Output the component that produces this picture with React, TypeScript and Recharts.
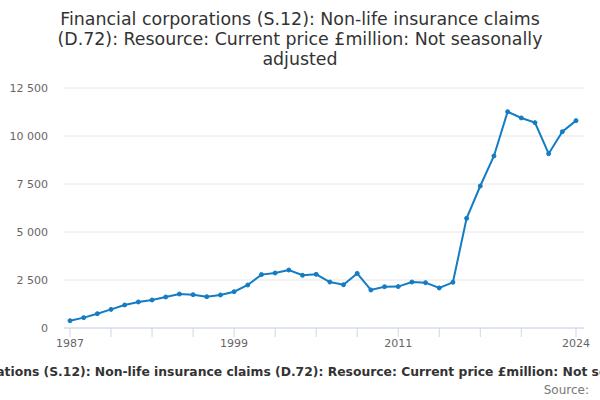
import React from 'react';
import { LineChart, Line, XAxis, YAxis, CartesianGrid } from 'recharts';

const years = [
  1987, 1988, 1989, 1990, 1991, 1992, 1993, 1994, 1995, 1996,
  1997, 1998, 1999, 2000, 2001, 2002, 2003, 2004, 2005, 2006,
  2007, 2008, 2009, 2010, 2011, 2012, 2013, 2014, 2015, 2016,
  2017, 2018, 2019, 2020, 2021, 2022, 2023, 2024,
];

const claims = [
  380, 540, 745, 970, 1200, 1355, 1460, 1615, 1770, 1735,
  1630, 1720, 1890, 2240, 2780, 2865, 3020, 2745, 2795, 2395,
  2255, 2845, 1980, 2150, 2155, 2395, 2360, 2085, 2380, 5710,
  7395, 8960, 11265, 10940, 10695, 9080, 10225, 10800,
];

const yTicks = [0, 2500, 5000, 7500, 10000, 12500];
const xTicks = [1987, 1990, 1993, 1996, 1999, 2002, 2005, 2008, 2011, 2014, 2017, 2020, 2024];
const xLabels = [1987, 1999, 2011, 2024];

const titleLines = [
  'Financial corporations (S.12): Non-life insurance claims',
  '(D.72): Resource: Current price £million: Not seasonally',
  'adjusted',
];
const seriesName =
  'Financial corporations (S.12): Non-life insurance claims (D.72): Resource: Current price £million: Not seasonally adjusted';
const sourceText = 'Source:';

const data = years.map((year, i) => ({ year, value: claims[i] }));

const fmt = (v: number) => String(v).replace(/\B(?=(\d{3})+(?!\d))/g, ' ');

const FONT = '"DejaVu Sans", sans-serif';
const LINE_COLOR = '#137cc4';

export default function App() {
  return (
    <div
      style={{
        position: 'absolute',
        left: 0,
        top: 0,
        width: 600,
        height: 400,
        overflow: 'hidden',
        background: '#ffffff',
        fontFamily: FONT,
      }}
    >
      <div style={{ position: 'absolute', left: 0, top: 0 }}>
        <LineChart
          width={600}
          height={400}
          data={data}
          margin={{ top: 88, right: 16, bottom: 42, left: 0 }}
          style={{ fontFamily: FONT }}
        >
          <CartesianGrid vertical={false} stroke="#e6e6e6" />
          <XAxis
            dataKey="year"
            type="number"
            domain={[1987, 2024]}
            ticks={xTicks}
            interval={0}
            tickFormatter={(v: number) => (xLabels.includes(v) ? String(v) : '')}
            tickSize={9}
            tickMargin={2}
            height={30}
            padding={{ left: 6, right: 8 }}
            stroke="#ccd6eb"
            axisLine={{ stroke: '#ccd6eb' }}
            tickLine={{ stroke: '#ccd6eb' }}
            tick={{ fill: '#666666', fontSize: 11 }}
          />
          <YAxis
            domain={[0, 12500]}
            ticks={yTicks}
            interval={0}
            width={64}
            tickSize={0}
            tickMargin={16}
            axisLine={false}
            tickLine={false}
            tickFormatter={fmt}
            tick={{ fill: '#666666', fontSize: 11 }}
          />
          <Line
            type="linear"
            dataKey="value"
            name={seriesName}
            stroke={LINE_COLOR}
            strokeWidth={2}
            dot={{ r: 2, fill: LINE_COLOR, stroke: LINE_COLOR, strokeWidth: 1 }}
            activeDot={false}
            isAnimationActive={false}
          />
        </LineChart>
      </div>
      {titleLines.map((t, i) => (
        <div
          key={i}
          style={{
            position: 'absolute',
            left: 0,
            width: 600,
            top: 9 + i * 20,
            height: 20,
            lineHeight: '20px',
            fontSize: 17.4,
            color: '#333333',
            textAlign: 'center',
            whiteSpace: 'nowrap',
          }}
        >
          {t}
        </div>
      ))}
      <div
        style={{
          position: 'absolute',
          left: -293,
          width: 1200,
          top: 364,
          height: 16,
          lineHeight: '16px',
          fontSize: 12.35,
          fontWeight: 'bold',
          color: '#333333',
          textAlign: 'center',
          whiteSpace: 'nowrap',
        }}
      >
        {seriesName}
      </div>
      <div
        style={{
          position: 'absolute',
          right: 11,
          top: 382,
          height: 16,
          lineHeight: '16px',
          fontSize: 12,
          color: '#777777',
          whiteSpace: 'nowrap',
        }}
      >
        {sourceText}
      </div>
    </div>
  );
}
